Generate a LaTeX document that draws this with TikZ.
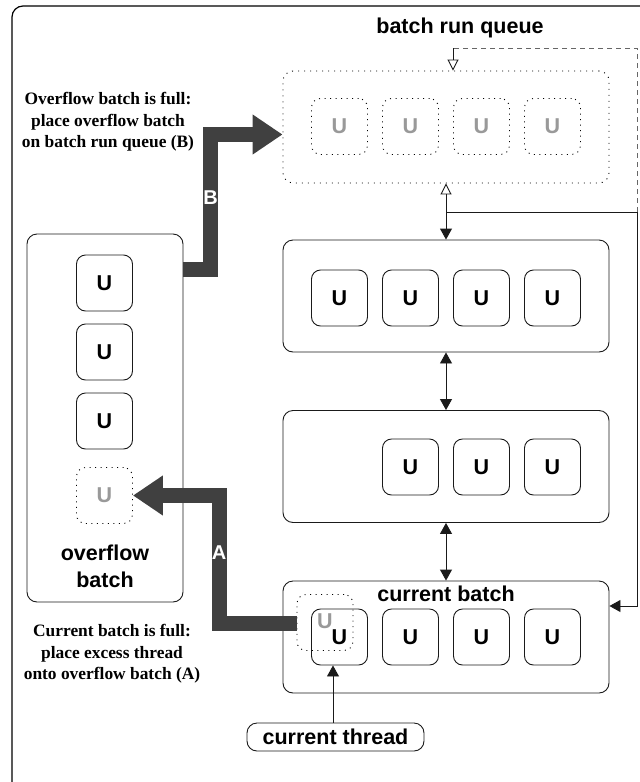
\documentclass[tikz,border=0pt]{standalone}
\usepackage{fontspec}
\setmainfont{Liberation Serif}
\setsansfont{Liberation Sans}
\usetikzlibrary{arrows.meta}

\definecolor{fatgrey}{HTML}{404040}
\definecolor{ghostgrey}{HTML}{999999}
\definecolor{edge}{HTML}{1A1A1A}

\tikzset{
  lbl/.style={font=\sffamily\bfseries\fontsize{21.5}{25}\selectfont},
  note/.style={font=\rmfamily\bfseries\fontsize{17.4}{21.3}\selectfont, align=center},
  ubox/.style={draw=edge, line width=0.9pt, rounded corners=9pt,
    minimum width=56pt, minimum height=56pt, inner sep=0pt, lbl},
  ughost/.style={ubox, draw=black, dash pattern=on 1pt off 4.5pt, text=ghostgrey},
  batchbox/.style={draw=edge, line width=0.9pt, rounded corners=10pt,
    minimum width=326pt, minimum height=112pt, inner sep=0pt},
  qbox/.style={batchbox, draw=black, dash pattern=on 1pt off 5pt},
  thin/.style={draw=edge, line width=0.9pt},
  fill tip/.style={-{Triangle[length=11pt,width=12pt]}},
  open tip/.style={-{Triangle[open,length=11pt,width=11pt]}},
  fat/.style={draw=fatgrey, line width=15pt, line join=miter,
    -{Triangle[length=30pt,width=38pt]}},
  fatlbl/.style={text=white, font=\sffamily\bfseries\fontsize{20}{22}\selectfont},
}

\begin{document}
\begin{tikzpicture}[x=1pt,y=-1pt]
  \useasboundingbox (0,0) rectangle (640,782);
  \clip (0,0) rectangle (640,782);

  % page frame, running off the right and bottom edges
  \draw[line width=1.2pt] [rounded corners=11pt] (12,6) rectangle (680,830);

  % batch run queue
  \node[lbl] (rqtitle) at (460,28) {batch run queue};
  \node[qbox] (rq) at (446,127) {};
  \foreach \i/\x in {1/339.5,2/410.5,3/481.5,4/552.5}
    \node[ughost] (rq\i) at (\x,126.5) {U};

  % batches on the run queue
  \node[batchbox] (top) at (446,296) {};
  \foreach \i/\x in {1/339.5,2/410.5,3/481.5,4/552.5}
    \node[ubox] (top\i) at (\x,298) {U};

  \node[batchbox] (mid) at (446,466.5) {};
  \foreach \i/\x in {2/410.5,3/481.5,4/552.5}
    \node[ubox] (mid\i) at (\x,467) {U};

  \node[batchbox] (cur) at (446,637) {};
  \node[lbl] (curtitle) at (446,594) {current batch};
  \foreach \i/\x in {1/339.5,2/410.5,3/481.5,4/552.5}
    \node[ubox] (cur\i) at (\x,637) {U};
  \node[ughost, text=ghostgrey] (excess) at (325,622.5) {};
  \node[lbl, text=ghostgrey] (excessu) at (325,621) {U};

  % current thread
  \node[draw=edge, line width=0.9pt, rounded corners=10pt, minimum width=177pt,
        minimum height=28pt, inner sep=0pt, lbl] (thread) at (335.5,737) {current thread};

  % overflow batch
  \node[draw=edge, line width=0.9pt, rounded corners=10pt, minimum width=156pt,
        minimum height=368pt, inner sep=0pt] (ovf) at (105,418) {};
  \foreach \i/\y in {1/283,2/352,3/421}
    \node[ubox] (ovf\i) at (104.5,\y) {U};
  \node[ughost] (ovf4) at (104.5,495.5) {U};
  \node[lbl, align=center, font=\sffamily\bfseries\fontsize{21.5}{27}\selectfont]
    (ovftitle) at (105,566) {overflow\\batch};

  % notes
  \node[note] (noteB) at (108,122) {Overflow batch is full:\\place overflow batch\\on batch run queue (B)};
  \node[note] (noteA) at (112,654) {Current batch is full:\\place excess thread\\onto overflow batch (A)};

  % links between the queue and the batches
  \coordinate (jn) at (446,212);
  \coordinate (rt) at (637,212);
  \coordinate (rb) at (637,606);
  \coordinate (dtop) at (637,48);
  \coordinate (dleft) at (453,48);
  \draw[thin, open tip] (jn) -- (rq.south);
  \draw[thin, fill tip] (jn) -- (top.north);
  \draw[thin, fill tip] (jn) -- (rt) -- (rb) -- (rb -| cur.east);
  \draw[draw=black!60, line width=1pt, dash pattern=on 5pt off 4pt] (rt) -- (dtop) -- (dleft);
  \draw[thin, open tip] (dleft) -- (dleft |- rq.north);
  \draw[thin, {Triangle[length=11pt,width=12pt]}-{Triangle[length=11pt,width=12pt]}] (top.south) -- (mid.north);
  \draw[thin, {Triangle[length=11pt,width=12pt]}-{Triangle[length=11pt,width=12pt]}] (mid.south) -- (cur.north);
  \draw[thin, fill tip] (thread.north -| 333,0) -- (cur1.south -| 333,0);

  % move B: overflow batch onto the run queue
  \coordinate (bA) at (210.5,269);
  \coordinate (bB) at (210.5,134.5);
  \draw[fat] (ovf.east |- bA) -- (bA) -- (bB) -- (rq.west |- bB);
  \node[fatlbl] (labB) at (210.5,198) {B};

  % move A: excess thread onto the overflow batch
  \coordinate (aA) at (219,623);
  \coordinate (aB) at (219,495.5);
  \draw[fat] (excess.west |- aA) -- (aA) -- (aB) -- (ovf4.east);
  \node[fatlbl] (labA) at (219,553) {A};
\end{tikzpicture}
\end{document}
